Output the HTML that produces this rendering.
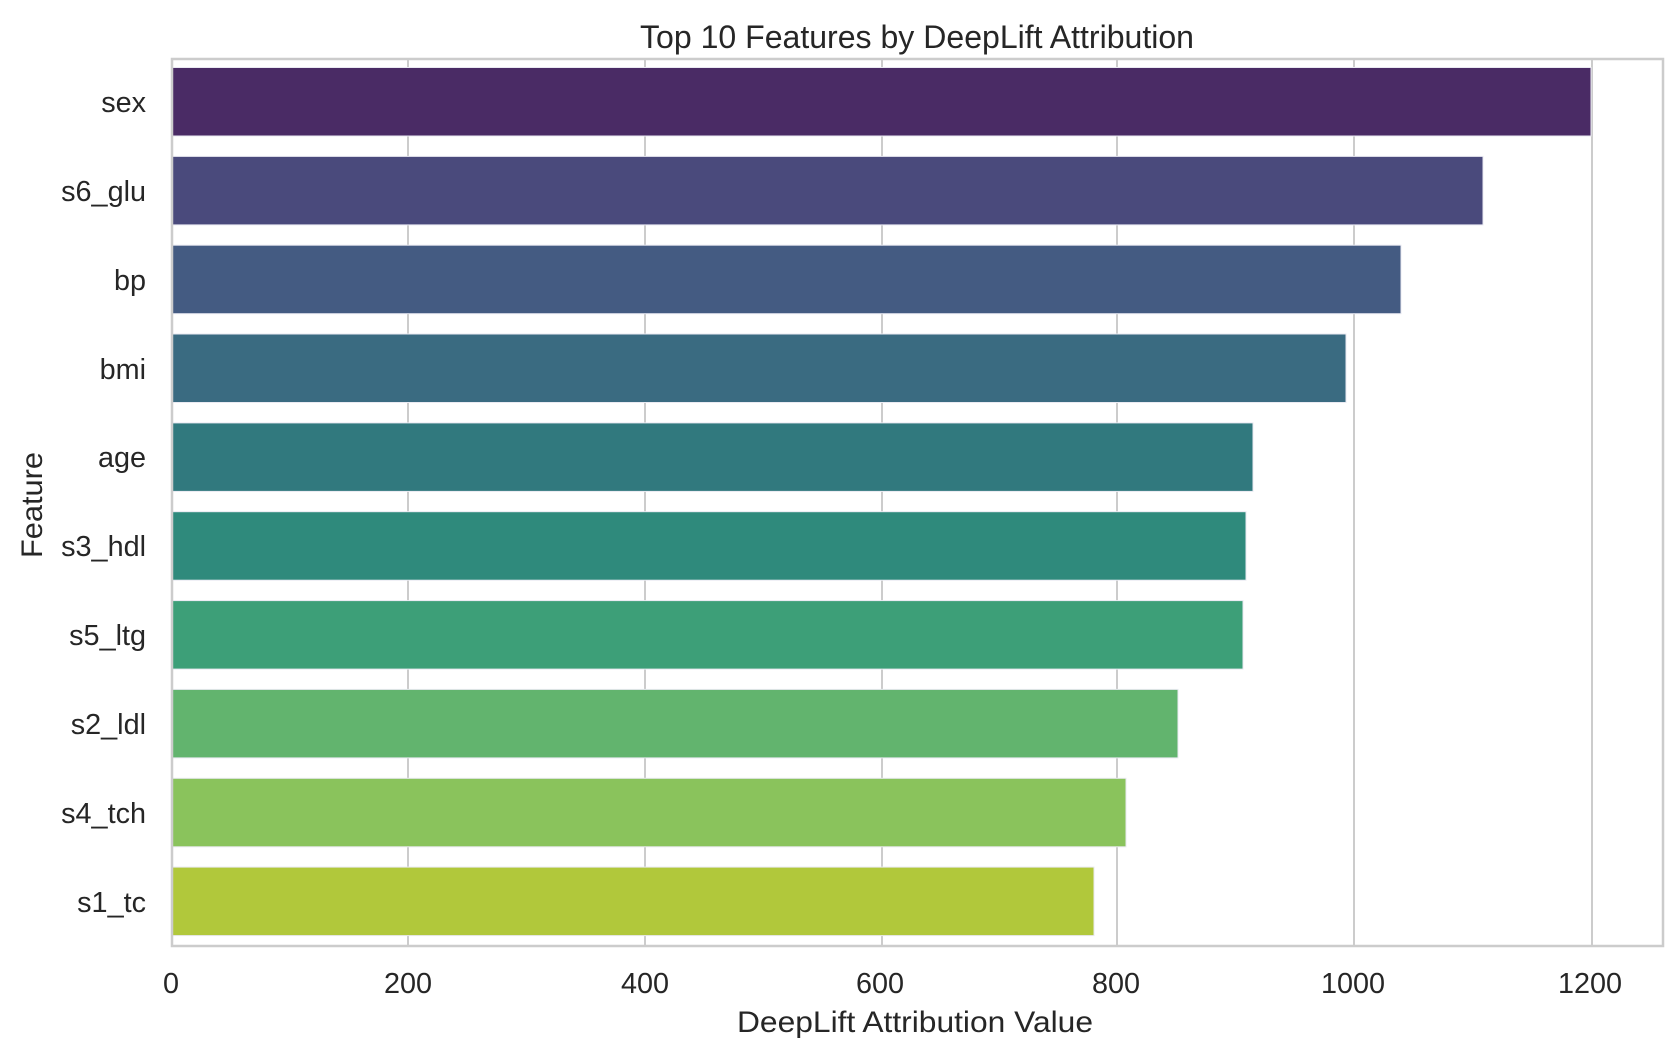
<!DOCTYPE html>
<html><head><meta charset="utf-8"><style>html,body{margin:0;padding:0;background:#fff;}svg{display:block}</style></head>
<body>
<svg width="1678" height="1057" xmlns="http://www.w3.org/2000/svg" font-family="Liberation Sans, Arial, sans-serif">
<rect width="1678" height="1057" fill="#fff"/>
<g stroke="#cccccc" stroke-width="2">
<line x1="408" y1="59" x2="408" y2="946"/>
<line x1="645" y1="59" x2="645" y2="946"/>
<line x1="882" y1="59" x2="882" y2="946"/>
<line x1="1117" y1="59" x2="1117" y2="946"/>
<line x1="1354" y1="59" x2="1354" y2="946"/>
<line x1="1592" y1="59" x2="1592" y2="946"/>
</g>
<g stroke="#eaeaf2" stroke-width="1">
<rect x="172" y="67.5" width="1419" height="68.5" fill="#4a2b65"/>
<rect x="172" y="156.4" width="1311" height="68.5" fill="#4a4a7c"/>
<rect x="172" y="245.2" width="1229" height="68.5" fill="#445b82"/>
<rect x="172" y="334" width="1174" height="68.5" fill="#3a6b81"/>
<rect x="172" y="422.9" width="1081" height="68.5" fill="#31797e"/>
<rect x="172" y="511.7" width="1074" height="68.5" fill="#2f8a7c"/>
<rect x="172" y="600.6" width="1071" height="68.5" fill="#3d9f78"/>
<rect x="172" y="689.4" width="1006" height="68.5" fill="#62b46e"/>
<rect x="172" y="778.3" width="954" height="68.5" fill="#8ac35c"/>
<rect x="172" y="867.1" width="922" height="68.5" fill="#b1c83b"/>
</g>
<rect x="172" y="59" width="1491" height="887" fill="none" stroke="#cccccc" stroke-width="2.5"/>
<g font-size="28.8" fill="#262626" text-anchor="end">
<text x="146" y="112">sex</text>
<text x="146" y="201">s6_glu</text>
<text x="146" y="290">bp</text>
<text x="146" y="379">bmi</text>
<text x="146" y="467">age</text>
<text x="146" y="556">s3_hdl</text>
<text x="146" y="645">s5_ltg</text>
<text x="146" y="734">s2_ldl</text>
<text x="146" y="823">s4_tch</text>
<text x="146" y="912">s1_tc</text>
</g>
<g font-size="28.8" fill="#262626" text-anchor="middle">
<text x="171" y="993">0</text>
<text x="408" y="993">200</text>
<text x="645" y="993">400</text>
<text x="880" y="993">600</text>
<text x="1116" y="993">800</text>
<text x="1353" y="993">1000</text>
<text x="1590" y="993">1200</text>
</g>
<text x="915" y="1032" font-size="29.3" fill="#262626" text-anchor="middle" textLength="356" lengthAdjust="spacingAndGlyphs">DeepLift Attribution Value</text>
<text x="917" y="48" font-size="32" fill="#262626" text-anchor="middle" textLength="554" lengthAdjust="spacingAndGlyphs">Top 10 Features by DeepLift Attribution</text>
<text transform="translate(42,505) rotate(-90)" font-size="29.3" fill="#262626" text-anchor="middle" textLength="106" lengthAdjust="spacingAndGlyphs">Feature</text>
</svg>
</body></html>
